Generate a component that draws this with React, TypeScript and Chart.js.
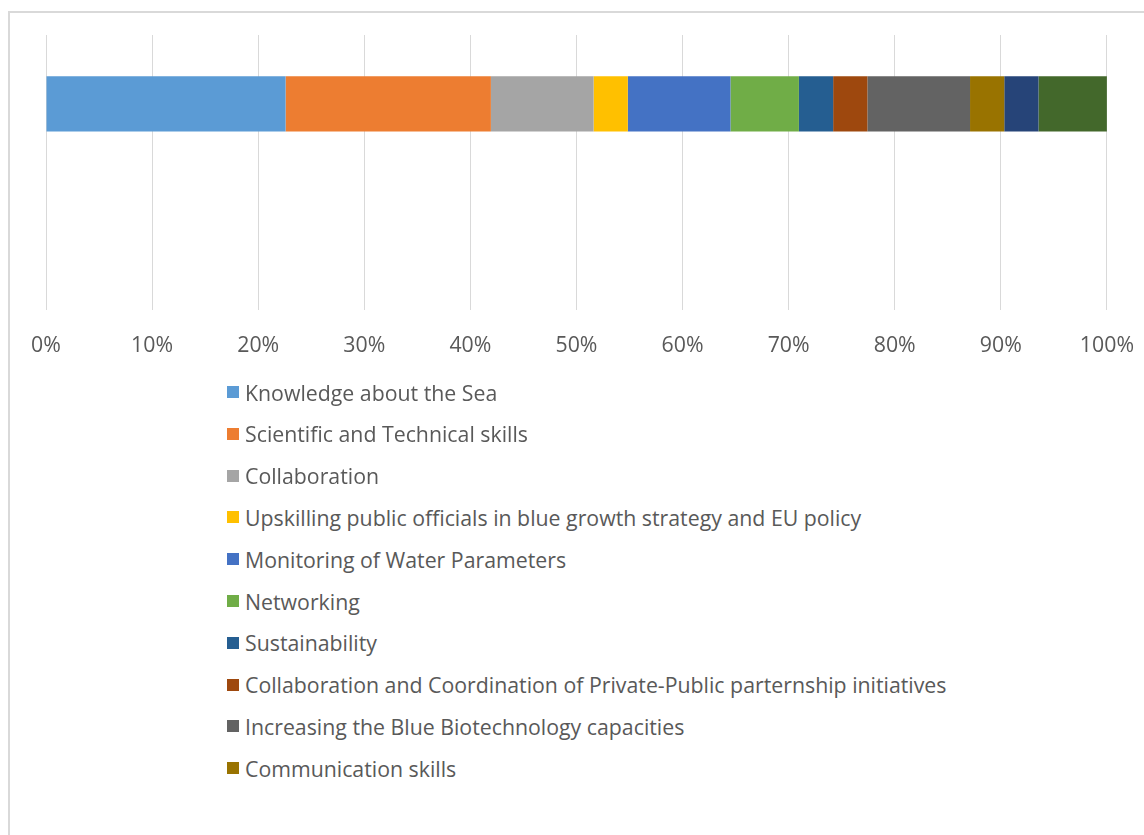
import React, { useEffect, useRef } from "react";
import { Chart, registerables } from "chart.js";

Chart.register(...registerables);

const categories: string[] = ["", ""];
const seriesNames: string[] = [
  "Knowledge about the Sea",
  "Scientific and Technical skills",
  "Collaboration",
  "Upskilling public officials in blue growth strategy and EU policy",
  "Monitoring of Water Parameters",
  "Networking",
  "Sustainability",
  "Collaboration and Coordination of Private-Public parternship initiatives",
  "Increasing the Blue Biotechnology capacities",
  "Communication skills",
  "Other (11)",
  "Other (12)",
];
const seriesCounts: number[] = [7, 6, 3, 1, 3, 2, 1, 1, 3, 1, 1, 2];
const seriesColors: string[] = [
  "#5B9BD5",
  "#ED7D31",
  "#A5A5A5",
  "#FFC000",
  "#4472C4",
  "#70AD47",
  "#255E91",
  "#9E480E",
  "#636363",
  "#997300",
  "#264478",
  "#43682B",
];
const xTicks: number[] = [0, 10, 20, 30, 40, 50, 60, 70, 80, 90, 100];
const visibleLegendCount = 10;

const FONT = "'Open Sans', Lato, sans-serif";
const TEXT = "#595959";
const CANVAS_W = 1157;
const CANVAS_H = 400;

export default function App() {
  const ref = useRef<HTMLCanvasElement | null>(null);

  useEffect(() => {
    if (!ref.current) return;
    const total = seriesCounts.reduce((a, b) => a + b, 0);
    const chart = new Chart(ref.current, {
      type: "bar",
      data: {
        labels: categories,
        datasets: seriesNames.map((name, i) => ({
          label: name,
          data: [(seriesCounts[i] / total) * 100, null],
          backgroundColor: seriesColors[i],
          borderWidth: 0,
          categoryPercentage: 0.4,
          barPercentage: 1,
        })),
      },
      options: {
        indexAxis: "y",
        animation: false,
        responsive: false,
        devicePixelRatio: 1,
        layout: { padding: { left: 46, right: 28, top: 35, bottom: 18 } },
        plugins: { legend: { display: false }, tooltip: { enabled: false } },
        scales: {
          y: { stacked: true, display: false },
          x: {
            stacked: true,
            min: 0,
            max: 100,
            afterBuildTicks: (axis: any) => {
              axis.ticks = xTicks.map((v) => ({ value: v }));
            },
            grid: { color: "#d9d9d9", lineWidth: 1, drawTicks: false },
            border: { display: false },
            ticks: {
              padding: 23,
              color: TEXT,
              font: { family: FONT, size: 21.3 },
              maxRotation: 0,
              autoSkip: false,
              callback: (v: any) => `${v}%`,
            },
          },
        },
      },
    } as any);
    return () => chart.destroy();
  }, []);

  const rowCenters = seriesNames.slice(0, visibleLegendCount).map((_, i) => 392 + i * 41.8);

  return (
    <div
      style={{
        position: "fixed",
        left: 0,
        top: 0,
        width: 1144,
        height: 835,
        overflow: "hidden",
        background: "#ffffff",
      }}
    >
      <div
        style={{
          position: "absolute",
          left: 8,
          top: 11,
          width: 1300,
          height: 1000,
          border: "2px solid #d9d9d9",
          boxSizing: "border-box",
        }}
      />
      <canvas
        ref={ref}
        width={CANVAS_W}
        height={CANVAS_H}
        style={{ position: "absolute", left: 0, top: 0, width: CANVAS_W, height: CANVAS_H }}
      />
      {seriesNames.slice(0, visibleLegendCount).map((name, i) => (
        <div
          key={name}
          style={{
            position: "absolute",
            left: 227,
            top: rowCenters[i] - 15,
            height: 30,
            display: "flex",
            alignItems: "center",
            whiteSpace: "nowrap",
            fontFamily: FONT,
            fontSize: 21.3,
            color: TEXT,
          }}
        >
          <span
            style={{
              display: "inline-block",
              width: 12,
              height: 12,
              background: seriesColors[i],
              marginRight: 6,
            }}
          />
          <span>{name}</span>
        </div>
      ))}
    </div>
  );
}
